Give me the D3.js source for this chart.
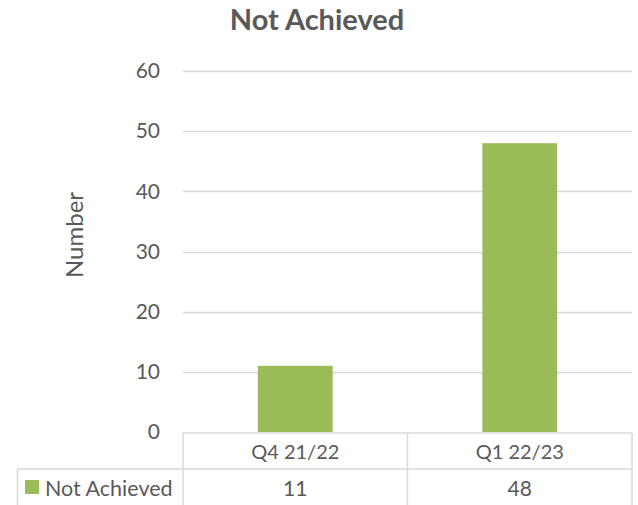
<!DOCTYPE html>
<html>
<head>
<meta charset="utf-8">
<script src="https://cdn.jsdelivr.net/npm/d3@7"></script>
<style>
  body { margin: 0; background: #fff; }
  text { font-family: Lato, "Open Sans", sans-serif; fill: #595959; }
</style>
</head>
<body>
<svg id="chart" width="638" height="505"></svg>
<script>
const categories = ['Q4 21/22', 'Q1 22/23'];
const seriesName = 'Not Achieved';
const values = [11, 48];
const yTicks = [0, 10, 20, 30, 40, 50, 60];

const WIDTH = 638, HEIGHT = 505;
const MARGIN = { left: 183, right: 6, top: 71, bottom: 73 };
const BAR_COLOR = '#9bbb59';
const GRID_COLOR = '#d9d9d9';

let svg = d3.select('#chart');

let xScale = d3.scaleBand()
    .domain(categories)
    .range([MARGIN.left, WIDTH - MARGIN.right])
    .paddingInner(0)
    .paddingOuter(0);

let yScale = d3.scaleLinear()
    .domain([0, 60])
    .range([HEIGHT - MARGIN.bottom, MARGIN.top]);

// title
svg.append('text')
    .text('Not Achieved')
    .attr('x', 317)
    .attr('y', 30)
    .attr('text-anchor', 'middle')
    .attr('font-size', '29px')
    .attr('font-weight', 'bold');

// y axis title
svg.append('text')
    .text('Number')
    .attr('transform', 'translate(83, 235) rotate(-90)')
    .attr('text-anchor', 'middle')
    .attr('font-size', '24px');

// gridlines
svg.append('g')
    .selectAll('line')
    .data(yTicks.filter(d => d > 0))
    .join('line')
    .attr('x1', MARGIN.left)
    .attr('x2', WIDTH - MARGIN.right)
    .attr('y1', d => Math.round(yScale(d)) + 0.5)
    .attr('y2', d => Math.round(yScale(d)) + 0.5)
    .attr('stroke', GRID_COLOR)
    .attr('stroke-width', 1.5);

// y tick labels
let yAxis = svg.append('g')
    .attr('transform', `translate(${MARGIN.left}, 0)`)
    .call(d3.axisLeft(yScale).tickValues(yTicks).tickSize(0).tickPadding(23));
yAxis.select('.domain').remove();
yAxis.selectAll('text')
    .attr('font-size', '21px')
    .attr('fill', '#595959')
    .style('font-family', 'Lato, "Open Sans", sans-serif');

// bars
let barW = xScale.bandwidth() / 3;
svg.append('g')
    .selectAll('rect')
    .data(values)
    .join('rect')
    .attr('x', (d, i) => xScale(categories[i]) + xScale.bandwidth() / 2 - barW / 2)
    .attr('width', barW)
    .attr('y', d => yScale(d))
    .attr('height', d => yScale(0) - yScale(d))
    .attr('fill', BAR_COLOR);

// data table
let row1Top = yScale(0) + 1, row2Top = 469, row2Bottom = 507;
let table = svg.append('g')
    .attr('stroke', GRID_COLOR)
    .attr('stroke-width', 1.5)
    .attr('fill', 'none');
let xs = [MARGIN.left, ...categories.map(c => xScale(c) + xScale.bandwidth())];
table.append('line').attr('x1', MARGIN.left).attr('x2', WIDTH - MARGIN.right).attr('y1', row1Top).attr('y2', row1Top);
table.append('line').attr('x1', 17).attr('x2', WIDTH - MARGIN.right).attr('y1', row2Top).attr('y2', row2Top);
xs.forEach(x => {
    table.append('line').attr('x1', x).attr('x2', x).attr('y1', row1Top).attr('y2', row2Bottom);
});
table.append('line').attr('x1', 17.5).attr('x2', 17.5).attr('y1', row2Top).attr('y2', row2Bottom);

svg.append('g')
    .selectAll('text')
    .data(categories)
    .join('text')
    .text(d => d)
    .attr('x', d => xScale(d) + xScale.bandwidth() / 2)
    .attr('y', 459)
    .attr('text-anchor', 'middle')
    .attr('font-size', '20px');

svg.append('g')
    .selectAll('text')
    .data(values)
    .join('text')
    .text(d => d)
    .attr('x', (d, i) => xScale(categories[i]) + xScale.bandwidth() / 2)
    .attr('y', 496)
    .attr('text-anchor', 'middle')
    .attr('font-size', '21px');

// legend key
svg.append('rect')
    .attr('x', 25)
    .attr('y', 480)
    .attr('width', 14)
    .attr('height', 14)
    .attr('fill', BAR_COLOR);
svg.append('text')
    .text(seriesName)
    .attr('x', 45)
    .attr('y', 496)
    .attr('font-size', '21.5px');
</script>
</body>
</html>
